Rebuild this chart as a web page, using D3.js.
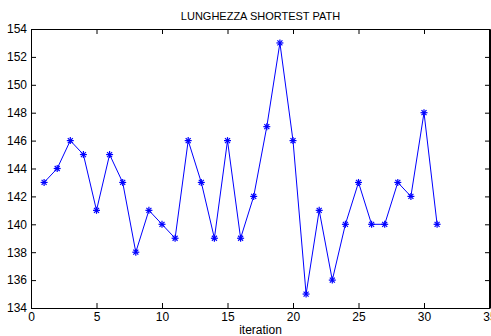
<!DOCTYPE html>
<html>
<head>
<meta charset="utf-8">
<script src="https://d3js.org/d3.v7.min.js"></script>
<style>
  body { margin: 0; background: #fff; }
  svg { display: block; }
  text { font-family: "Liberation Sans Narrow", "Liberation Sans", Arial, sans-serif; fill: #000; }
</style>
</head>
<body>
<script>
"use strict";

var iterations = d3.range(1, 32);
var lengths = [143, 144, 146, 145, 141, 145, 143, 138, 141, 140, 139, 146, 143, 139, 146, 139,
               142, 147, 153, 146, 135, 141, 136, 140, 143, 140, 140, 143, 142, 148, 140];
var xTicks = [0, 5, 10, 15, 20, 25, 30, 35];
var yTicks = [134, 136, 138, 140, 142, 144, 146, 148, 150, 152, 154];

var width = 491, height = 336;
var mLeft = 31, mTop = 29, mRight = 490, mBottom = 308;

var svg = d3.select("body").append("svg")
    .attr("width", width)
    .attr("height", height);

var x = d3.scaleLinear().domain([0, 35]).range([mLeft, mLeft + 13.1 * 35]);
var y = d3.scaleLinear().domain([134, 154]).range([mBottom, mTop]);

// axes box with inward ticks
svg.append("g")
    .attr("transform", "translate(0," + mBottom + ")")
    .call(d3.axisBottom(x).tickValues(xTicks).tickSizeInner(-5).tickSizeOuter(0).tickPadding(4));
svg.append("g")
    .attr("transform", "translate(0," + mTop + ")")
    .call(d3.axisTop(x).tickValues(xTicks).tickSizeInner(-5).tickSizeOuter(0).tickFormat(""));
svg.append("g")
    .attr("transform", "translate(" + mLeft + ",0)")
    .call(d3.axisLeft(y).tickValues(yTicks).tickSizeInner(-5).tickSizeOuter(0).tickPadding(4));
svg.append("g")
    .attr("transform", "translate(" + mRight + ",0)")
    .call(d3.axisRight(y).tickValues(yTicks).tickSizeInner(-5).tickSizeOuter(0).tickFormat(""));

svg.selectAll(".domain").attr("stroke", "#000").attr("stroke-width", 1);
svg.selectAll(".tick line").attr("stroke", "#000");
svg.selectAll(".tick text").style("font-size", "12px");
svg.append("line")
    .attr("x1", mRight - 0.5).attr("x2", mRight - 0.5)
    .attr("y1", mTop).attr("y2", mBottom)
    .attr("stroke", "#000");

var pts = iterations.map(function(d, i) { return [d, lengths[i]]; });

svg.append("path")
    .datum(pts)
    .attr("fill", "none")
    .attr("stroke", "#0000ff")
    .attr("stroke-width", 1)
    .attr("d", d3.line().x(function(d) { return x(d[0]); }).y(function(d) { return y(d[1]); }));

// star markers
var m = svg.append("g").attr("stroke", "#0000ff").attr("stroke-width", 1.2);
pts.forEach(function(d) {
    var cx = x(d[0]), cy = y(d[1]), r = 3.5;
    m.append("line").attr("x1", cx - r).attr("x2", cx + r).attr("y1", cy).attr("y2", cy);
    m.append("line").attr("x1", cx).attr("x2", cx).attr("y1", cy - r).attr("y2", cy + r);
    m.append("line").attr("x1", cx - 2.5).attr("x2", cx + 2.5).attr("y1", cy - 2.5).attr("y2", cy + 2.5);
    m.append("line").attr("x1", cx - 2.5).attr("x2", cx + 2.5).attr("y1", cy + 2.5).attr("y2", cy - 2.5);
});

svg.append("text")
    .attr("x", (mLeft + mRight) / 2)
    .attr("y", 20)
    .attr("text-anchor", "middle")
    .style("font-size", "11px")
    .text("LUNGHEZZA SHORTEST PATH");

svg.append("text")
    .attr("x", (mLeft + mRight) / 2)
    .attr("y", 334)
    .attr("text-anchor", "middle")
    .style("font-size", "12px")
    .text("iteration");
</script>
</body>
</html>
